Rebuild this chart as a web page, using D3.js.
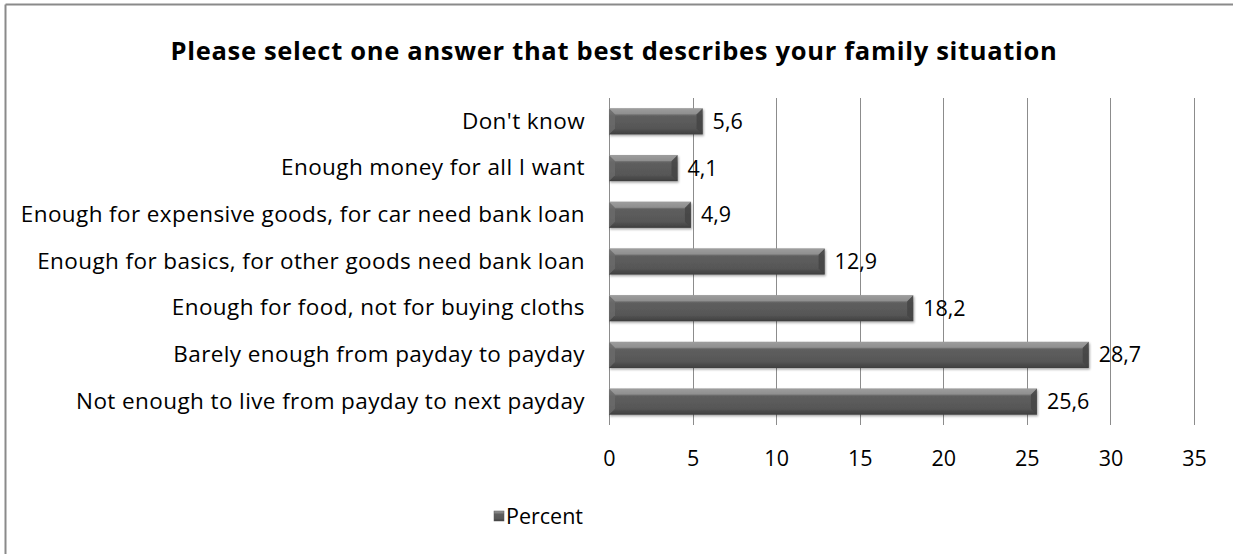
<!DOCTYPE html>
<html>
<head>
<meta charset="utf-8">
<script src="https://cdn.jsdelivr.net/npm/d3@7"></script>
<style>
  body { margin: 0; background: #fff; }
  svg { display: block; font-family: "Open Sans", "Liberation Sans", sans-serif; }
</style>
</head>
<body>
<svg width="1233" height="554"></svg>
<script>
// data
var categories = [
    "Don't know",
    "Enough money for all I want",
    "Enough for expensive goods, for car need bank loan",
    "Enough for basics, for other goods need bank loan",
    "Enough for food, not for buying cloths",
    "Barely enough from payday to payday",
    "Not enough to live from payday to next payday"
];
var percent = [5.6, 4.1, 4.9, 12.9, 18.2, 28.7, 25.6];
var xTicks = [0, 5, 10, 15, 20, 25, 30, 35];
var seriesName = "Percent";
var title = "Please select one answer that best describes your family situation";

var rows = categories.map(function(c, i) { return { cat: c, val: percent[i] }; });

var svg = d3.select("svg");

// chart frame (only top and left edges are in the picture)
svg.append("line").attr("x1", 5.5).attr("y1", 4.5).attr("x2", 1233).attr("y2", 4.5)
    .attr("stroke", "#8a8a8a").attr("stroke-width", 2);
svg.append("line").attr("x1", 5.5).attr("y1", 4.5).attr("x2", 5.5).attr("y2", 554)
    .attr("stroke", "#8a8a8a").attr("stroke-width", 2);

var defs = svg.append("defs");
var grad = defs.append("linearGradient").attr("id", "barGrad")
    .attr("x1", 0).attr("y1", 0).attr("x2", 0).attr("y2", 1);
grad.append("stop").attr("offset", "0%").attr("stop-color", "#9a9a9a");
grad.append("stop").attr("offset", "22%").attr("stop-color", "#7a7a7a");
grad.append("stop").attr("offset", "30%").attr("stop-color", "#5e5e5e");
grad.append("stop").attr("offset", "75%").attr("stop-color", "#575757");
grad.append("stop").attr("offset", "100%").attr("stop-color", "#3e3e3e");

var shadow = defs.append("filter").attr("id", "barShadow")
    .attr("x", "-5%").attr("y", "-20%").attr("width", "110%").attr("height", "160%");
shadow.append("feDropShadow").attr("dx", 1).attr("dy", 1.5).attr("stdDeviation", 1.2)
    .attr("flood-color", "#000").attr("flood-opacity", 0.35);

var x = d3.scaleLinear().domain([0, 35]).range([609, 1194]);
var y = d3.scaleBand().domain(categories).range([98, 425]).paddingInner(0.44).paddingOuter(0.22);

// title
svg.append("text")
    .attr("x", 614).attr("y", 60)
    .attr("text-anchor", "middle")
    .attr("font-size", 25.5).attr("font-weight", "bold").attr("fill", "#000")
    .attr("letter-spacing", 0.7)
    .text(title);

// vertical gridlines
svg.append("g").selectAll("line")
    .data(xTicks)
    .enter()
    .append("line")
    .attr("x1", function(d) { return Math.round(x(d)) + 0.5; })
    .attr("x2", function(d) { return Math.round(x(d)) + 0.5; })
    .attr("y1", 98).attr("y2", 425)
    .attr("stroke", "#8c8c8c").attr("stroke-width", 1);

// x axis labels
var xAxis = svg.append("g")
    .attr("transform", "translate(0,425)")
    .call(d3.axisBottom(x).tickValues(xTicks).tickSize(0).tickPadding(26).tickFormat(d3.format("d")));
xAxis.select(".domain").remove();
xAxis.selectAll("text").attr("font-size", 21.5).attr("font-family", "Open Sans").attr("fill", "#000");

// category labels
var yAxis = svg.append("g")
    .attr("transform", "translate(609,0)")
    .call(d3.axisLeft(y).tickSize(0).tickPadding(24));
yAxis.select(".domain").remove();
yAxis.selectAll("text").attr("font-size", 22.5).attr("font-family", "Open Sans")
    .attr("letter-spacing", 0.4).attr("fill", "#000");

// bars
var bars = svg.append("g").selectAll("g")
    .data(rows)
    .enter()
    .append("g")
    .attr("filter", "url(#barShadow)");

bars.append("rect")
    .attr("x", x(0))
    .attr("y", function(d) { return y(d.cat); })
    .attr("width", function(d) { return x(d.val) - x(0); })
    .attr("height", y.bandwidth())
    .attr("fill", "url(#barGrad)");

// bevel faces at both ends
var bev = 6;
bars.append("path")
    .attr("d", function(d) {
        var x0 = x(0), y0 = y(d.cat), h = y.bandwidth();
        return "M" + x0 + "," + y0 + "L" + (x0 + bev) + "," + (y0 + bev) +
            "L" + (x0 + bev) + "," + (y0 + h - bev) + "L" + x0 + "," + (y0 + h) + "Z";
    })
    .attr("fill", "#6a6a6a").attr("opacity", 0.8);
bars.append("path")
    .attr("d", function(d) {
        var x1 = x(d.val), y0 = y(d.cat), h = y.bandwidth();
        return "M" + x1 + "," + y0 + "L" + (x1 - bev) + "," + (y0 + bev) +
            "L" + (x1 - bev) + "," + (y0 + h - bev) + "L" + x1 + "," + (y0 + h) + "Z";
    })
    .attr("fill", "#444").attr("opacity", 0.85);
bars.append("path")
    .attr("d", function(d) {
        var x0 = x(0), x1 = x(d.val), y0 = y(d.cat);
        return "M" + x0 + "," + y0 + "L" + x1 + "," + y0 +
            "L" + (x1 - bev) + "," + (y0 + bev) + "L" + (x0 + bev) + "," + (y0 + bev) + "Z";
    })
    .attr("fill", "#a0a0a0").attr("opacity", 0.55);

// value labels
svg.append("g").selectAll("text")
    .data(rows)
    .enter()
    .append("text")
    .attr("x", function(d) { return x(d.val) + 10; })
    .attr("y", function(d) { return y(d.cat) + y.bandwidth() / 2; })
    .attr("dy", "0.35em")
    .attr("font-size", 21.5).attr("fill", "#000")
    .text(function(d) { return String(d.val).replace(".", ","); });

// legend
var legend = svg.append("g").attr("transform", "translate(494,511)");
legend.append("rect").attr("width", 10).attr("height", 10).attr("fill", "url(#barGrad)")
    .attr("stroke", "#555").attr("stroke-width", 0.5);
legend.append("text").attr("x", 12).attr("y", 5).attr("dy", "0.35em")
    .attr("font-size", 21.5).attr("fill", "#000").text(seriesName);
</script>
</body>
</html>
